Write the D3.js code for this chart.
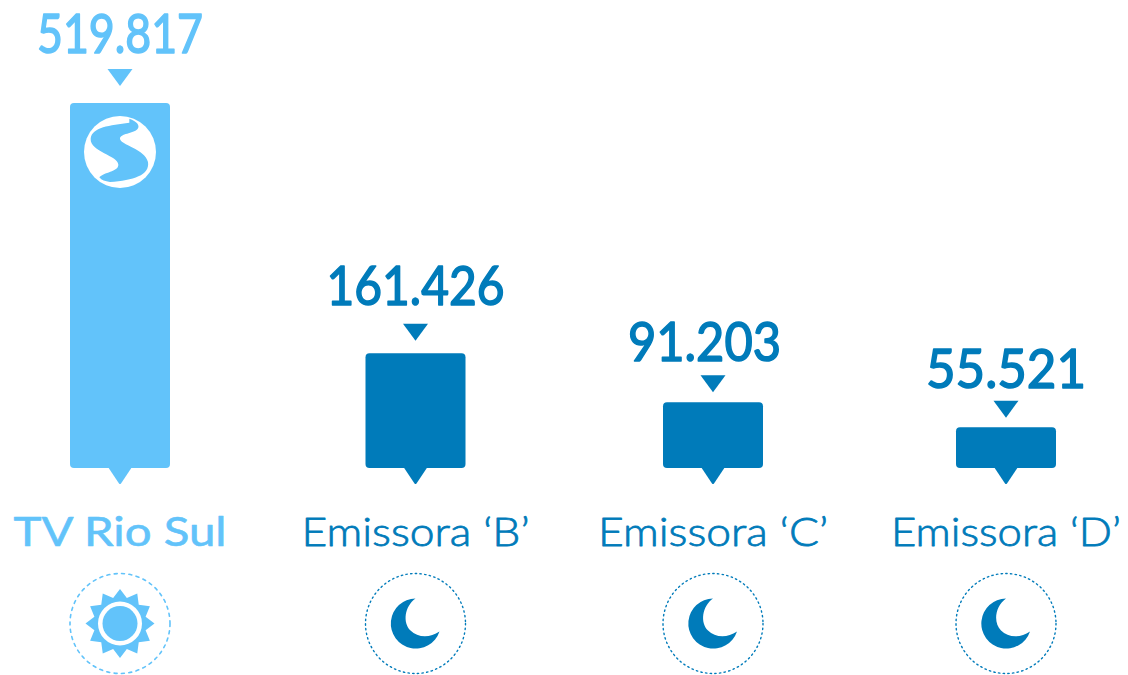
<!DOCTYPE html>
<html>
<head>
<meta charset="utf-8">
<script src="https://cdnjs.cloudflare.com/ajax/libs/d3/7.8.5/d3.min.js"></script>
<style>
  html, body { margin: 0; padding: 0; background: #fff; }
  svg { display: block; }
  text { font-family: "Lato", "Open Sans", sans-serif; text-anchor: middle; }
</style>
</head>
<body>
<div id="chart"></div>
<script>
const categories = ["TV Rio Sul", "Emissora ‘B’", "Emissora ‘C’", "Emissora ‘D’"];
const values = [519817, 161426, 91203, 55521];
const valueLabels = ["519.817", "161.426", "91.203", "55.521"];
const periods = ["day", "night", "night", "night"];

const lightBlue = "#62c3fa";
const darkBlue = "#007bba";

const fullWidth = 1128;
const fullHeight = 675;
const barWidth = 100;
const baseline = 468;
const iconY = 623.5;

// the columns are not quite evenly spaced in the original
const x = d3.scaleOrdinal().domain(categories).range([120, 415.5, 713, 1006]);
const y = d3.scaleLinear().domain([-3000, 519817]).range([baseline, 103]);
const colour = i => i === 0 ? lightBlue : darkBlue;

// gap between arrow and bar, and arrow to number, differ per column
const arrowGap = [17, 12.5, 10, 9.5];
const labelGap = [16, 19, 14, 13];
const labelShift = [0, 0, -8.5, 0];
const valueWidths = [166, 178, 153, 160];
const nameWidths = [213, 228, 230, 230];

const svg = d3.select("#chart").append("svg")
    .attr("width", fullWidth)
    .attr("height", fullHeight);

const columns = svg.selectAll(".column")
    .data(categories.map((name, i) => ({ name, value: values[i], label: valueLabels[i], period: periods[i], i })))
    .join("g")
    .attr("class", "column")
    .attr("transform", d => `translate(${x(d.name)},0)`)
    .style("color", d => colour(d.i));

// Bars
columns.append("rect")
    .attr("x", -barWidth / 2)
    .attr("y", d => y(d.value))
    .attr("width", barWidth)
    .attr("height", d => baseline - y(d.value))
    .attr("rx", 4)
    .attr("fill", "currentColor");

// Tail under the bar
columns.append("path")
    .attr("d", `M-12,${baseline - 1}L12,${baseline - 1}L1,${baseline + 15.5}Q0,${baseline + 16.5} -1,${baseline + 15.5}Z`)
    .attr("fill", "currentColor");

// Arrow over the bar
columns.append("path")
    .attr("d", d => {
        const tip = y(d.value) - arrowGap[d.i];
        return `M-12.5,${tip - 17}L12.5,${tip - 17}L0,${tip}Z`;
    })
    .attr("fill", "currentColor");

// Numbers
columns.append("text")
    .attr("x", d => labelShift[d.i])
    .attr("y", d => y(d.value) - arrowGap[d.i] - 17 - labelGap[d.i])
    .attr("textLength", d => valueWidths[d.i])
    .attr("lengthAdjust", "spacingAndGlyphs")
    .style("font-size", "55px")
    .style("font-weight", 400)
    .attr("fill", "currentColor")
    .attr("stroke", "currentColor")
    .attr("stroke-width", 1.6)
    .attr("stroke-linejoin", "round")
    .text(d => d.label);

// Names
columns.append("text")
    .attr("y", 546)
    .attr("textLength", d => nameWidths[d.i])
    .attr("lengthAdjust", "spacingAndGlyphs")
    .style("font-size", "40px")
    .style("font-weight", d => d.i === 0 ? 400 : 300)
    .attr("fill", "currentColor")
    .attr("stroke", "currentColor")
    .attr("stroke-width", d => d.i === 0 ? 0.6 : 0.8)
    .attr("stroke-linejoin", "round")
    .text(d => d.name);

// Dotted ring round the icons
columns.append("circle")
    .attr("cy", iconY)
    .attr("r", 50)
    .attr("fill", "none")
    .attr("stroke", "currentColor")
    .attr("stroke-width", d => d.period === "day" ? 1.6 : 1.4)
    .attr("stroke-linecap", "round")
    .attr("stroke-dasharray", d => d.period === "day" ? "3 4.4" : "1.4 3.3");

// Sun
const sunPoints = d3.range(24).map(k => [k * Math.PI / 12, k % 2 === 0 ? 34.5 : 26.5]);
const sun = columns.filter(d => d.period === "day").append("g")
    .attr("transform", `translate(0,${iconY})`);
sun.append("path")
    .attr("d", d3.lineRadial().curve(d3.curveLinearClosed)(sunPoints))
    .attr("fill", "currentColor");
sun.append("circle").attr("r", 22).attr("fill", "#fff");
sun.append("circle").attr("r", 17.5).attr("fill", "currentColor");

// Moon
columns.filter(d => d.period === "night").append("path")
    .attr("transform", `translate(0,${iconY})`)
    .attr("d", "M0,-25 A25,25 0 1 0 24,8 C14,15 2,14 -5,7 C-13,-1 -11,-17 0,-25 Z")
    .attr("fill", "currentColor");

// Logo on the first bar
const logo = svg.append("g")
    .attr("transform", `translate(${x(categories[0])},152)`);
logo.append("circle").attr("r", 36).attr("fill", "#fff");
logo.append("path")
    .attr("transform", "scale(0.3333)")
    .attr("d", "M28,-100 C50,-92 62,-80 52,-68 C40,-55 0,-55 0,-40 C0,-22 75,-10 84,30 C90,70 40,85 -30,90 C-45,88 -55,85 -62,76 C-50,60 -5,60 -5,38 C-5,10 -90,0 -88,-40 C-85,-75 -30,-80 28,-88 Z")
    .attr("fill", lightBlue);
</script>
</body>
</html>
